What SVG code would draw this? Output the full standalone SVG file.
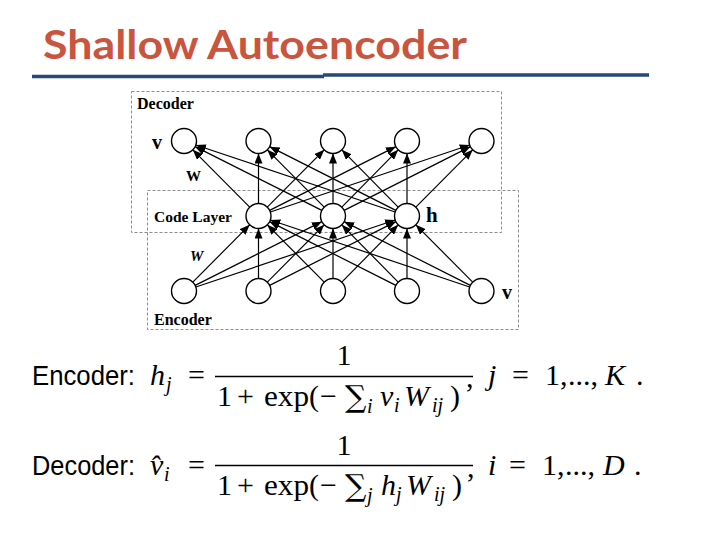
<svg xmlns="http://www.w3.org/2000/svg" width="720" height="540" viewBox="0 0 720 540">
<defs>
<marker id="arr" viewBox="0 0 10 8" refX="10" refY="4" markerWidth="10" markerHeight="8" markerUnits="userSpaceOnUse" orient="auto">
<path d="M0,0 L10,4 L0,8 z" fill="#000"/>
</marker>
<style>
.box{fill:none;stroke:#808080;stroke-width:0.9;stroke-dasharray:3,2}
.node{fill:#fff;stroke:#000;stroke-width:1.4}
.edge line{stroke:#000;stroke-width:1.2;marker-end:url(#arr)}
.lbl{font-family:"Liberation Serif","Times New Roman",serif;font-weight:bold;fill:#000}
.m{font-family:"Liberation Serif","DejaVu Serif",serif;fill:#000;font-size:30px}
.mi{font-family:"Liberation Serif","DejaVu Serif",serif;font-style:italic;fill:#000;font-size:30px}
.sub{font-family:"Liberation Serif","DejaVu Serif",serif;font-style:italic;fill:#000;font-size:20px}
.sum{font-family:"DejaVu Serif",serif;fill:#000;font-size:30px}
.sans{font-family:"Liberation Sans","DejaVu Sans",sans-serif;fill:#000;font-size:28px}
</style>
</defs>
<rect width="720" height="540" fill="#fff"/>
<g id="title">
<text x="43" y="59" font-family="Lato,'Open Sans',sans-serif" font-weight="bold" font-size="40" fill="#C9553F" textLength="424" lengthAdjust="spacingAndGlyphs">Shallow Autoencoder</text>
<line x1="32" y1="76.5" x2="324" y2="76.5" stroke="#24497A" stroke-width="3.5"/>
<line x1="323" y1="75" x2="649" y2="75" stroke="#24497A" stroke-width="3.5"/>
</g>
<g id="frames">
<rect class="box" x="131.5" y="91.5" width="370" height="141"/>
<rect class="box" x="147.5" y="190.5" width="371" height="139"/>
</g>
<g id="connectors" class="edge">
<line x1="249.69" y1="207.13" x2="192.81" y2="149.87"/>
<line x1="258.5" y1="203.5" x2="258.5" y2="153.5"/>
<line x1="267.31" y1="207.13" x2="324.19" y2="149.87"/>
<line x1="269.66" y1="210.36" x2="395.84" y2="146.64"/>
<line x1="270.35" y1="212.01" x2="469.65" y2="144.99"/>
<line x1="321.84" y1="210.36" x2="195.16" y2="146.64"/>
<line x1="324.19" y1="207.13" x2="267.31" y2="149.87"/>
<line x1="333" y1="203.5" x2="333" y2="153.5"/>
<line x1="341.81" y1="207.13" x2="398.19" y2="149.87"/>
<line x1="344.16" y1="210.36" x2="470.34" y2="146.64"/>
<line x1="395.15" y1="212.01" x2="195.85" y2="144.99"/>
<line x1="395.84" y1="210.36" x2="269.66" y2="146.64"/>
<line x1="398.19" y1="207.13" x2="341.81" y2="149.87"/>
<line x1="407" y1="203.5" x2="407" y2="153.5"/>
<line x1="415.81" y1="207.13" x2="472.69" y2="149.87"/>
<line x1="192.81" y1="282.13" x2="249.69" y2="224.87"/>
<line x1="195.16" y1="285.36" x2="321.84" y2="221.64"/>
<line x1="195.85" y1="287.01" x2="395.15" y2="219.99"/>
<line x1="258.5" y1="278.5" x2="258.5" y2="228.5"/>
<line x1="267.31" y1="282.13" x2="324.19" y2="224.87"/>
<line x1="269.66" y1="285.36" x2="395.84" y2="221.64"/>
<line x1="324.19" y1="282.13" x2="267.31" y2="224.87"/>
<line x1="333" y1="278.5" x2="333" y2="228.5"/>
<line x1="341.81" y1="282.13" x2="398.19" y2="224.87"/>
<line x1="395.84" y1="285.36" x2="269.66" y2="221.64"/>
<line x1="398.19" y1="282.13" x2="341.81" y2="224.87"/>
<line x1="407" y1="278.5" x2="407" y2="228.5"/>
<line x1="469.65" y1="287.01" x2="270.35" y2="219.99"/>
<line x1="470.34" y1="285.36" x2="344.16" y2="221.64"/>
<line x1="472.69" y1="282.13" x2="415.81" y2="224.87"/>
</g>
<g id="decoder-layer">
<circle id="t1" class="node" cx="184" cy="141" r="12.5"/>
<circle id="t2" class="node" cx="258.5" cy="141" r="12.5"/>
<circle id="t3" class="node" cx="333" cy="141" r="12.5"/>
<circle id="t4" class="node" cx="407" cy="141" r="12.5"/>
<circle id="t5" class="node" cx="481.5" cy="141" r="12.5"/>
</g>
<g id="code-layer">
<circle id="m1" class="node" cx="258.5" cy="216" r="12.5"/>
<circle id="m2" class="node" cx="333" cy="216" r="12.5"/>
<circle id="m3" class="node" cx="407" cy="216" r="12.5"/>
</g>
<g id="encoder-layer">
<circle id="b1" class="node" cx="184" cy="291" r="12.5"/>
<circle id="b2" class="node" cx="258.5" cy="291" r="12.5"/>
<circle id="b3" class="node" cx="333" cy="291" r="12.5"/>
<circle id="b4" class="node" cx="407" cy="291" r="12.5"/>
<circle id="b5" class="node" cx="481.5" cy="291" r="12.5"/>
</g>
<g id="labels">
<text class="lbl" x="137" y="109" font-size="16">Decoder</text>
<text class="lbl" x="152" y="149" font-size="20">v</text>
<text class="lbl" x="186" y="181" font-size="15">W</text>
<text class="lbl" x="154" y="221.5" font-size="15.5">Code Layer</text>
<text class="lbl" x="426" y="222" font-size="21">h</text>
<text class="lbl" x="190" y="261" font-size="15" font-style="italic">W</text>
<text class="lbl" x="154" y="325" font-size="16">Encoder</text>
<text class="lbl" x="502" y="299" font-size="20">v</text>
</g>
<g id="eq-encoder">
<text class="sans" x="32" y="385" textLength="103" lengthAdjust="spacingAndGlyphs">Encoder:</text>
<text class="mi" x="150" y="385">h</text>
<text class="sub" x="166" y="391">j</text>
<text class="m" x="188" y="385">=</text>
<text class="m" x="344" y="365" text-anchor="middle">1</text>
<line x1="215" y1="376.5" x2="473" y2="376.5" stroke="#000" stroke-width="1.3"/>
<text class="m" x="217" y="406">1</text>
<text class="m" x="237" y="406">+</text>
<text class="m" x="264" y="406" textLength="45" lengthAdjust="spacingAndGlyphs">exp</text>
<text class="m" x="309" y="406">(</text>
<text class="m" x="320" y="406">−</text>
<text class="sum" x="345" y="407">∑</text>
<text class="sub" x="367" y="413">i</text>
<text class="mi" x="380" y="406">v</text>
<text class="sub" x="394" y="412">i</text>
<text class="mi" x="404" y="406">W</text>
<text class="sub" x="432" y="412">ij</text>
<text class="m" x="450" y="406">)</text>
<text class="m" x="466" y="387">,</text>
<text class="mi" x="488" y="385">j</text>
<text class="m" x="512" y="385">=</text>
<text class="m" x="545" y="385">1,</text>
<text class="m" x="568" y="385">...,</text>
<text class="mi" x="605" y="385">K</text>
<text class="m" x="636" y="385">.</text>
</g>
<g id="eq-decoder">
<text class="sans" x="32" y="474.5" textLength="103" lengthAdjust="spacingAndGlyphs">Decoder:</text>
<text class="mi" x="150" y="474.5">v̂</text>
<text class="sub" x="164" y="481">i</text>
<text class="m" x="188" y="474.5">=</text>
<text class="m" x="344" y="454.5" text-anchor="middle">1</text>
<line x1="215" y1="465.5" x2="473" y2="465.5" stroke="#000" stroke-width="1.3"/>
<text class="m" x="217" y="495">1</text>
<text class="m" x="237" y="495">+</text>
<text class="m" x="264" y="495" textLength="45" lengthAdjust="spacingAndGlyphs">exp</text>
<text class="m" x="309" y="495">(</text>
<text class="m" x="320" y="495">−</text>
<text class="sum" x="345" y="496">∑</text>
<text class="sub" x="367" y="502">j</text>
<text class="mi" x="381" y="495">h</text>
<text class="sub" x="396" y="501">j</text>
<text class="mi" x="406" y="495">W</text>
<text class="sub" x="434" y="501">ij</text>
<text class="m" x="452" y="495">)</text>
<text class="m" x="467" y="476.5">,</text>
<text class="mi" x="488" y="474.5">i</text>
<text class="m" x="509" y="474.5">=</text>
<text class="m" x="542" y="474.5">1,</text>
<text class="m" x="565" y="474.5">...,</text>
<text class="mi" x="603" y="474.5">D</text>
<text class="m" x="634" y="474.5">.</text>
</g>
</svg>
